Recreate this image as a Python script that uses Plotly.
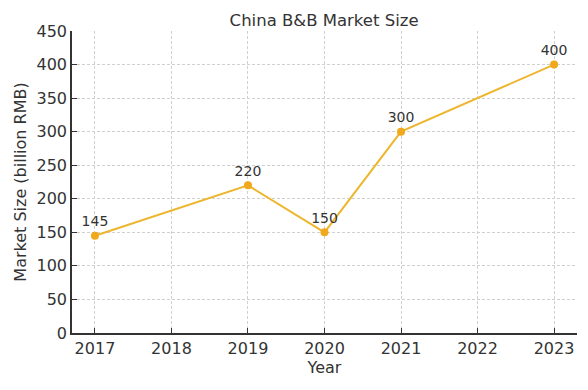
import plotly.graph_objects as go

years = [2017, 2019, 2020, 2021, 2023]
market_size = [145, 220, 150, 300, 400]
x_ticks = [2017, 2018, 2019, 2020, 2021, 2022, 2023]
y_ticks = [0, 50, 100, 150, 200, 250, 300, 350, 400, 450]

font = "DejaVu Sans, Verdana, sans-serif"
fig = go.Figure()
fig.add_trace(go.Scatter(
    x=years, y=market_size, mode="lines+markers+text",
    text=[str(v) for v in market_size], textposition="top center",
    textfont=dict(size=14, color="#333333", family=font),
    line=dict(color="#EDB62E", width=2),
    marker=dict(color="#F0A81C", size=8),
    cliponaxis=False, showlegend=False,
))

axis_common = dict(
    showgrid=True, gridcolor="#d0d0d0", griddash="3px,2px", gridwidth=1,
    showline=True, linecolor="#333333", linewidth=1.5,
    ticks="inside", ticklen=5, tickcolor="#333333",
    tickfont=dict(size=16, color="#333333", family=font),
    zeroline=False, automargin=False,
)
# the page body adds an 8px offset, so the figure is 8px smaller and margins shifted
fig.update_layout(
    width=580, height=382,
    margin=dict(l=64, r=11, t=23, b=57),
    paper_bgcolor="white", plot_bgcolor="white",
    title=dict(text="China B&B Market Size", x=0.545, xanchor="center", y=0.982, yanchor="top",
               font=dict(size=16.5, color="#333333", family=font)),
    xaxis=dict(axis_common, range=[2016.7, 2023.3], tickvals=x_ticks,
               title=dict(text="Year", font=dict(size=16, color="#333333", family=font), standoff=4)),
    yaxis=dict(axis_common, range=[0, 450], tickvals=y_ticks,
               title=dict(text="Market Size (billion RMB)", font=dict(size=16, color="#333333", family=font), standoff=6)),
)
fig.write_html("out.html")
